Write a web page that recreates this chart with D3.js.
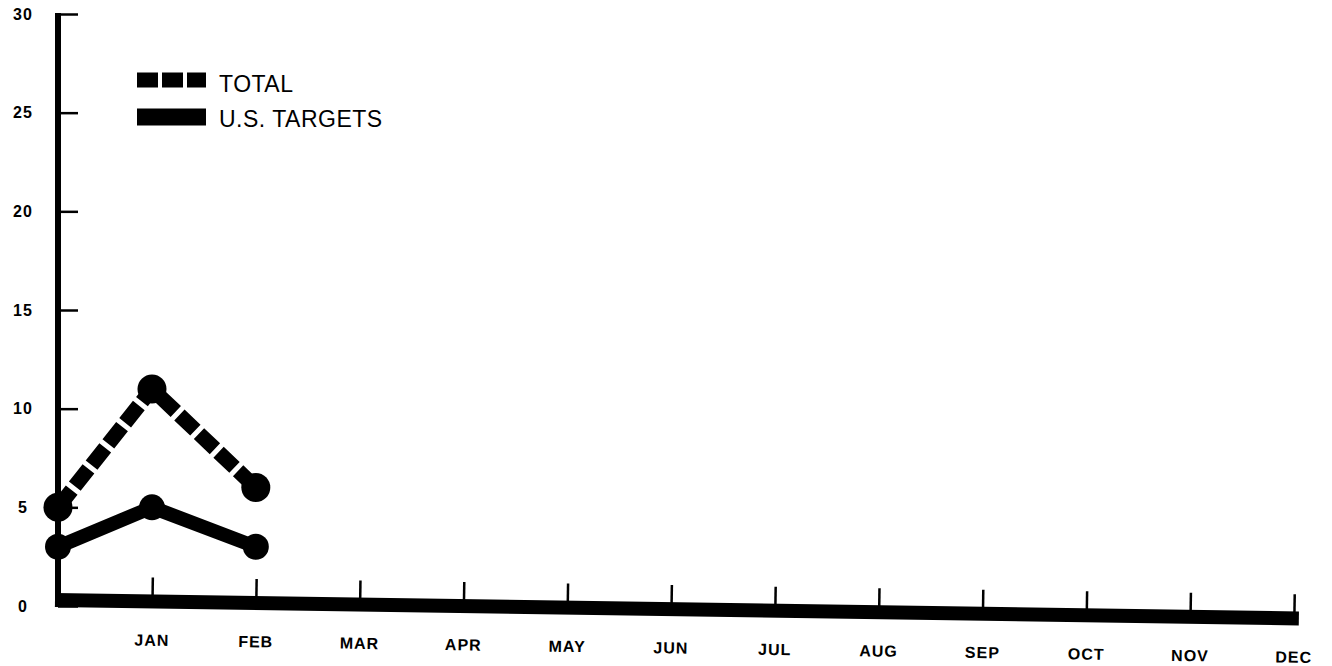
<!DOCTYPE html>
<html><head><meta charset="utf-8">
<script src="https://cdn.jsdelivr.net/npm/d3@7"></script>
<style>body{margin:0;background:#fff}svg{display:block}</style>
</head><body>
<svg id="c" width="1332" height="666"></svg>
<script>
// ---- data ----
const months = ["", "JAN", "FEB", "MAR", "APR", "MAY", "JUN", "JUL", "AUG", "SEP", "OCT", "NOV", "DEC"];
const totalValues = [5, 11, 6];
const usTargetValues = [3, 5, 3];
const yTickValues = [0, 5, 10, 15, 20, 25, 30];
const seriesNames = ["TOTAL", "U.S. TARGETS"];

// ---- layout ----
const svg = d3.select("#c");
const ink = "#000";
const font = "'Liberation Sans', Arial, Helvetica, sans-serif";
const x = d3.scaleLinear().domain([0, 1, 12]).range([58, 152, 1294]);
const y = d3.scaleLinear().domain([0, 30]).range([606, 14]);
const baseY = 600;

// y axis
const yAxis = d3.axisLeft(y).tickValues(yTickValues)
  .tickSizeInner(-20).tickSizeOuter(0).tickPadding(35)
  .tickFormat(d3.format("d"));
const gy = svg.append("g").attr("transform", `translate(${x(0)},0)`).call(yAxis);
gy.select(".domain").attr("stroke", ink).attr("stroke-width", 6).attr("d", `M0,${y(30) - 1}V${baseY}`);
gy.selectAll(".tick line").attr("stroke", ink).attr("stroke-width", 2.5);
gy.selectAll(".tick text").attr("fill", ink).attr("text-anchor", "middle")
  .style("font-family", font)
  .style("font-weight", "bold").style("font-size", "16px").style("letter-spacing", "1px");

// x axis (slightly tilted like the scan)
const xAxis = d3.axisBottom(x).tickValues(d3.range(1, 13))
  .tickSizeInner(-24).tickSizeOuter(0).tickPadding(33)
  .tickFormat(i => months[i]);
const gx = svg.append("g")
  .attr("transform", `rotate(0.85, ${x(0)}, ${baseY}) translate(0,${baseY})`)
  .call(xAxis);
gx.select(".domain").attr("stroke", ink).attr("stroke-width", 14).attr("d", `M${x(0) - 3},0H${x(12) + 5}`);
gx.selectAll(".tick line").attr("stroke", ink).attr("stroke-width", 2.5);
gx.selectAll(".tick text").attr("fill", ink)
  .style("font-family", font)
  .style("font-weight", "bold").style("font-size", "16px").style("letter-spacing", "1px");

// series
const line = d3.line().x((d, i) => x(i)).y(d => y(d));
const series = [
  { name: seriesNames[0], values: totalValues, dash: "22,5", r: 14.5, w: 15 },
  { name: seriesNames[1], values: usTargetValues, dash: null, r: 13, w: 14 }
];
series.forEach(s => {
  svg.append("path").datum(s.values).attr("d", line)
    .attr("fill", "none").attr("stroke", ink).attr("stroke-width", s.w)
    .attr("stroke-linejoin", "round")
    .attr("stroke-dasharray", s.dash);
  svg.selectAll(null).data(s.values).enter().append("circle")
    .attr("cx", (d, i) => x(i)).attr("cy", d => y(d)).attr("r", s.r).attr("fill", ink);
});

// legend
const lg = svg.append("g").attr("transform", "translate(137,0)");
const legendRows = [
  { name: seriesNames[0], dash: "21,4", cy: 80, h: 15, base: 92 },
  { name: seriesNames[1], dash: null, cy: 117, h: 17, base: 127 }
];
legendRows.forEach(r => {
  lg.append("line").attr("x1", 0).attr("x2", 69).attr("y1", r.cy).attr("y2", r.cy)
    .attr("stroke", ink).attr("stroke-width", r.h).attr("stroke-dasharray", r.dash);
  lg.append("text").attr("x", 82).attr("y", r.base).text(r.name)
    .attr("fill", ink)
    .style("font-family", font)
    .style("font-size", "23px").style("letter-spacing", "0.5px");
});
</script>
</body></html>
